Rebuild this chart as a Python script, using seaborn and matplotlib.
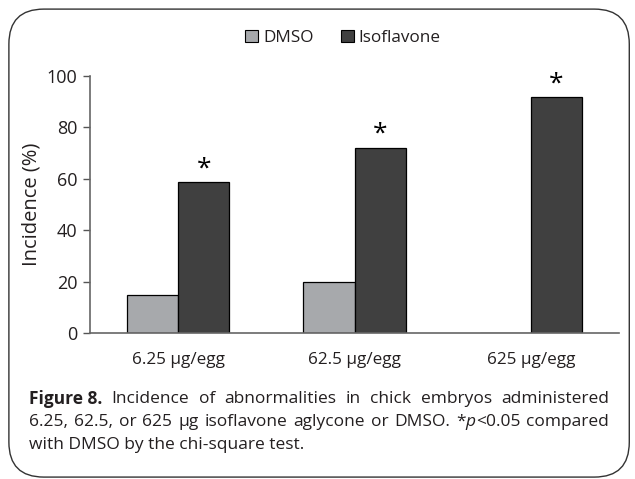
import matplotlib
matplotlib.use("Agg")
import matplotlib.pyplot as plt
from matplotlib.patches import FancyBboxPatch, Patch
import pandas as pd
import seaborn as sns

# Data
doses = ["6.25 µg/egg", "62.5 µg/egg", "625 µg/egg"]
dmso = [14.8, 20.0, 0.0]
isoflavone = [58.6, 72.1, 91.8]
significant = [True, True, True]
groups = ["DMSO", "Isoflavone"]
colors = ["#a7a9ac", "#404040"]

df = pd.DataFrame({
    "dose": doses * 2,
    "group": [groups[0]] * 3 + [groups[1]] * 3,
    "value": dmso + isoflavone,
})

sns.set_theme(style="white")
plt.rcParams["font.family"] = ["Open Sans", "DejaVu Sans"]
txt_color = "#231f20"

fig = plt.figure(figsize=(6.35, 4.79), dpi=100)
ax = fig.add_axes([0.1417, 0.3048, 0.8333, 0.5365])

sns.barplot(data=df, x="dose", y="value", hue="group", order=doses,
            hue_order=groups, palette=colors, width=0.58, ax=ax,
            edgecolor="black", linewidth=0.9, legend=False, saturation=1)

ax.set_ylim(0, 100)
ax.set_xlim(-0.5, 2.5)
ax.set_yticks([0, 20, 40, 60, 80, 100])
ax.set_xlabel("")
ax.set_ylabel("Incidence (%)", fontsize=14.5, labelpad=4, color=txt_color)
ax.tick_params(axis="y", left=True, length=5, width=1, color="#555555",
               labelsize=13, pad=4, labelcolor=txt_color)
ax.tick_params(axis="x", bottom=False, labelsize=12.3, pad=8, labelcolor=txt_color)
sns.despine(ax=ax)
for s in ["left", "bottom"]:
    ax.spines[s].set_color("#666666")
    ax.spines[s].set_linewidth(1.2)

# asterisks over the isoflavone bars
iso_bars = ax.containers[1]
for bar, sig in zip(iso_bars, significant):
    if sig:
        ax.text(bar.get_x() + bar.get_width() / 2, bar.get_height() + 0.3, "*",
                ha="center", va="bottom", fontsize=19, color="black")

handles = [Patch(facecolor=c, edgecolor="black", linewidth=0.8) for c in colors]
fig.legend(handles, groups, loc="center", bbox_to_anchor=(0.54, 0.921), ncol=2,
           frameon=False, fontsize=12.3, handlelength=0.75, handleheight=0.75,
           handletextpad=0.3, columnspacing=1.6, labelcolor=txt_color)

# rounded frame
frame = FancyBboxPatch((0.014, 0.004), 0.977, 0.977, transform=fig.transFigure,
                       boxstyle="round,pad=0,rounding_size=0.055",
                       facecolor="none", edgecolor="#333333", linewidth=1.0,
                       mutation_aspect=635 / 479)
fig.patches.append(frame)

# caption, justified
caption = [
    [("Figure 8.", "bold", "normal"), ("Incidence", "normal", "normal"), ("of", "normal", "normal"),
     ("abnormalities", "normal", "normal"), ("in", "normal", "normal"), ("chick", "normal", "normal"),
     ("embryos", "normal", "normal"), ("administered", "normal", "normal")],
    [("6.25,", "normal", "normal"), ("62.5,", "normal", "normal"), ("or", "normal", "normal"),
     ("625", "normal", "normal"), ("µg", "normal", "normal"), ("isoflavone", "normal", "normal"),
     ("aglycone", "normal", "normal"), ("or", "normal", "normal"), ("DMSO.", "normal", "normal"),
     ("*", "normal", "normal"), ("p", "normal", "italic"), ("<0.05", "normal", "normal"),
     ("compared", "normal", "normal")],
    [("with DMSO by the chi-square test.", "normal", "normal")],
]
x0, x1 = 29 / 635, 609 / 635
ys = [1 - 399 / 479, 1 - 422 / 479, 1 - 445 / 479]
fig.canvas.draw()
renderer = fig.canvas.get_renderer()
for li, (words, y) in enumerate(zip(caption, ys)):
    items = []
    for w, weight, style in words:
        t = fig.text(0, y, w, fontsize=12.5, fontweight=weight, fontstyle=style,
                     va="center", ha="left", color=txt_color)
        bb = t.get_window_extent(renderer)
        items.append((t, bb.width / fig.bbox.width))
    if li == 2:
        items[0][0].set_x(x0)
        continue
    # keep '*', 'p', '<0.05' together
    glued = []
    for i, (t, w) in enumerate(items):
        if glued and words[i - 1][0] in ("*", "p"):
            glued[-1].append((t, w))
        else:
            glued.append([(t, w)])
    total = sum(w for t, w in items)
    gap = (x1 - x0 - total) / (len(glued) - 1)
    x = x0
    for g in glued:
        for t, w in g:
            t.set_x(x)
            x += w
        x += gap

fig.savefig("out.png", dpi=100)
